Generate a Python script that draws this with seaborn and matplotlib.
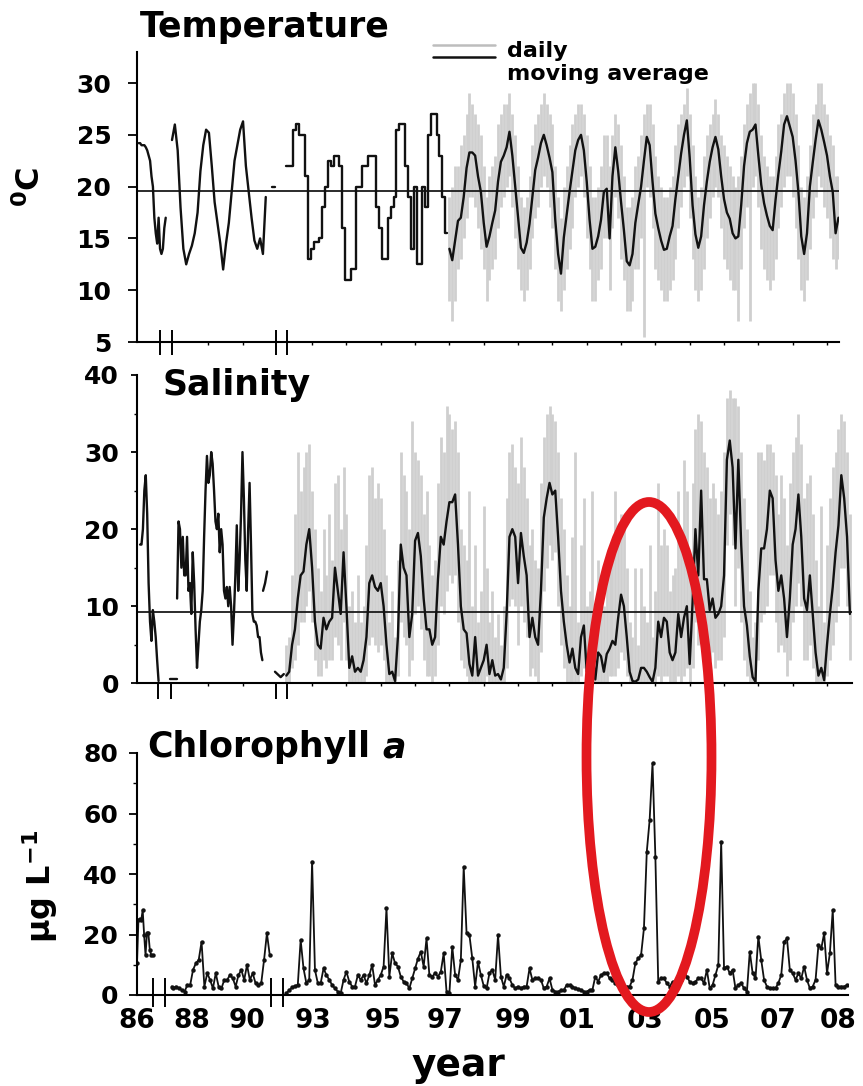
import numpy as np
import matplotlib
matplotlib.use("Agg")
import matplotlib.pyplot as plt
import seaborn as sns
from matplotlib.patches import Ellipse
from matplotlib.lines import Line2D
from matplotlib.ticker import NullLocator

sns.set_theme(style="ticks")
plt.rcParams["font.family"] = ["DejaVu Sans"]
plt.rcParams["font.weight"] = "bold"
plt.rcParams["mathtext.default"] = "bf"
plt.rcParams["axes.linewidth"] = 1.5
for k in ("text.color", "axes.labelcolor", "xtick.color", "ytick.color", "axes.edgecolor"):
    plt.rcParams[k] = "black"

# ---------------- DATA ----------------
# Temperature (deg C)
temp_a_start = 1986.40            # semi-monthly
temp_a = [24.2, 24.2, 24, 24, 24, 23.8, 23.5, 23, 22.5, 21,
          20, 17, 15.5, 14.5, 17, 14, 13.5, 14, 16, 17]
temp_b_start = 1988.55            # monthly
temp_b = [24.5, 26, 23.5, 18, 14, 12.5, 13.5, 14.3, 15.5, 17.5,
          21.5, 24, 25.5, 25.2, 22, 18.5, 16.5, 14.5, 12, 14.5,
          16.5, 19.5, 22.5, 24, 25.5, 26.3, 22, 19.5, 17, 14.8,
          14, 15, 13.5, 19]
temp_stub_years = [1991.48, 1991.58]
temp_stub = [20, 20]
temp_station_start = 1992.25      # monthly station values (step line)
temp_station = [22, 22, 22, 25.5, 26, 25, 25, 21, 13, 14,
                14.7, 14.7, 15, 18, 20, 22.5, 22, 23, 23, 22,
                16, 11, 11, 12, 12, 20, 20, 22, 22, 23,
                23, 23, 18, 16, 13, 13, 17, 18, 19, 25.5,
                26, 26, 22, 19, 14, 20, 12.5, 12.5, 20, 18,
                25, 27, 27, 25, 23, 19, 15.5]
temp_ma_start = 1997.0            # monthly moving average
temp_ma = [14.0, 12.9, 14.8, 16.7, 17.0, 19.0, 21.8, 23.3, 23.3, 23.0,
           21.0, 19.5, 16.5, 14.2, 15.2, 16.5, 17.7, 20.5, 22.4, 23.0,
           23.8, 25.3, 23.0, 20.0, 17.0, 14.1, 13.6, 14.6, 16.4, 19.0,
           21.6, 22.8, 24.2, 25.0, 24.0, 22.8, 21.4, 16.8, 13.5, 11.6,
           15.1, 17.3, 19.5, 21.5, 23.5, 24.5, 25.0, 23.5, 20.5, 16.8,
           14.0, 14.2, 15.2, 16.8, 19.5, 19.8, 15.0, 21.0, 23.8, 21.5,
           18.5, 15.8, 12.8, 12.4, 13.5, 16.5, 18.3, 20.0, 22.5, 24.8,
           24.0, 20.5, 17.4, 16.0, 14.8, 13.9, 14.0, 15.2, 16.2, 18.8,
           21.0, 23.2, 25.0, 26.4, 22.8, 18.2, 15.4, 14.1, 15.2, 18.2,
           20.5, 22.4, 23.8, 24.8, 23.6, 21.0, 18.8, 17.5, 16.9, 15.5,
           15.0, 15.2, 18.2, 22.0, 24.2, 25.3, 25.5, 26.0, 23.0, 20.2,
           18.4, 17.2, 16.2, 15.8, 18.7, 21.2, 23.4, 26.0, 26.8, 25.8,
           24.8, 22.5, 19.5, 15.2, 13.5, 15.5, 20.0, 22.3, 24.5, 26.4,
           25.5, 24.3, 23.0, 21.0, 19.5, 15.5, 17.0]
temp_daily_hi = [19, 20, 22, 22, 24, 25, 27, 29, 28, 27,
                 26, 25, 22, 19, 21, 22, 23, 26, 27, 28,
                 28, 29, 27, 25, 22, 19, 18, 19, 21, 24,
                 26, 27, 28, 29, 28, 27, 26, 22, 19, 17,
                 20, 22, 24, 26, 27, 28, 28, 27, 25, 22,
                 19, 19, 20, 22, 25, 25, 22, 25, 27, 26,
                 24, 21, 18, 18, 19, 22, 23, 25, 27, 28,
                 28, 26, 23, 21, 20, 19, 19, 20, 21, 24,
                 26, 27, 28, 29.5, 27, 24, 21, 19, 20, 23,
                 25, 26, 27, 28.5, 27, 25, 24, 23, 22, 21,
                 20, 21, 23, 26, 28, 29, 30, 30, 28, 25,
                 23, 22, 21, 21, 23, 26, 27, 29, 30, 30,
                 29, 27, 24, 20, 19, 21, 24, 27, 28, 30,
                 30, 28, 27, 25, 24, 21, 21]
temp_daily_lo = [9, 7, 9, 12, 13, 15, 17, 19, 19, 18,
                 16, 14, 12, 9, 11, 12, 13, 16, 18, 19,
                 20, 21, 18, 15, 12, 10, 9, 10, 12, 15,
                 17, 18, 20, 21, 20, 18, 16, 12, 9, 8,
                 10, 12, 14, 16, 19, 20, 21, 19, 15, 12,
                 9, 9, 11, 12, 15, 15, 10, 16, 19, 17,
                 13, 11, 8, 8, 9, 12, 12, 15, 5.5, 20,
                 19, 16, 12, 11, 10, 9, 9, 10, 11, 13,
                 16, 18, 20, 21, 17, 13, 10, 9, 10, 12,
                 15, 17, 19, 20, 19, 16, 13, 12, 11, 10,
                 10, 7, 12, 16, 18, 7, 20, 21, 18, 14,
                 12, 11, 10, 11, 13, 16, 18, 20, 21, 21,
                 19, 16, 13, 10, 9, 11, 14, 17, 19, 21,
                 20, 18, 17, 15, 13, 12, 13]
temp_ref = 19.6

# Salinity
sal_a_start = 1986.44             # semi-monthly
sal_a = [18, 18, 20, 25, 27, 22, 13, 8, 5.5, 9.5, 8, 6, 3, 0.3]
sal_stub1_years = [1988.10, 1988.70]
sal_stub1 = [0.5, 0.5]
sal_b_start = 1988.70             # semi-monthly
sal_b = [11, 21, 20, 15, 19, 14, 14, 19, 12, 13,
         9, 17, 13, 7, 2, 5, 8, 9.5, 12, 19,
         25, 29.5, 26, 27, 30, 28.5, 25, 21, 20, 22,
         17, 20, 18, 12, 11, 12.5, 10, 12.5, 10, 5,
         9, 14, 20.5, 12, 16, 22, 30, 24, 16, 12,
         20, 26, 18, 9, 8, 8, 7.5, 6, 6, 4,
         3]
sal_b2_years = [1991.22, 1991.28, 1991.34]
sal_b2 = [12, 13, 14.5]
sal_stub2_years = [1991.57, 1991.90, 1992.10]
sal_stub2 = [1.5, 0.8, 1.2]
sal_ma_start = 1992.25            # monthly moving average
sal_ma = [1.0, 1.5, 5, 7, 11, 14, 14.5, 18, 20, 15,
          8, 5, 4.5, 8.5, 7, 8, 8.5, 15, 12, 9,
          17, 10, 2, 3.5, 1.5, 2, 1.5, 3, 6, 13,
          14, 12.5, 12, 13, 10, 5, 1.2, 1.5, 0.3, 6,
          18, 15, 14, 6, 9, 18.5, 19.5, 16.5, 11, 7,
          7, 5, 6, 13.5, 19, 18, 21, 23.5, 23.5, 24.5,
          18, 10, 7, 6.5, 2.5, 1, 6, 1, 2, 3,
          5, 1.2, 3, 1, 1.2, 0.5, 2, 9, 19, 20,
          19, 13, 19.5, 16.5, 14, 6, 8.5, 6, 5, 12,
          21.5, 24, 26, 24.5, 25, 19, 12, 8, 5, 2.7,
          4.5, 2, 1.2, 6, 7.5, 1.5, 1.5, 4, 0.5, 4,
          3.5, 1.5, 3.8, 4.5, 5.5, 5, 8.5, 11.5, 10, 6,
          1.5, 0.3, 0.2, 0.5, 2, 2, 1.5, 0.8, 0.2, 2,
          8, 6, 8.5, 8, 4, 3, 4, 9, 6, 8.5,
          10, 2.5, 10.5, 20, 14, 25, 13.5, 13.5, 9.5, 11,
          8.5, 9, 10, 14, 29, 31.5, 28, 17.5, 29, 18,
          10, 7.5, 3.5, 0.8, 0.2, 12, 17.5, 17.5, 20, 25,
          24, 16, 12, 14, 11, 6, 11, 18, 20, 24.5,
          19, 11, 9.5, 14, 9, 4, 1, 2, 0.4, 5,
          9, 12.5, 17, 20.5, 27, 24, 19, 9]
sal_daily_hi = [5, 6, 14, 22, 30, 25, 28, 30, 31, 25,
                20, 15, 12, 20, 14, 22, 16, 26, 27, 20,
                28, 22, 10, 12, 8, 14, 8, 10, 18, 27,
                28, 24, 26, 24, 20, 14, 8, 12, 6, 16,
                30, 27, 25, 20, 34, 30, 29, 27, 22, 25,
                18, 14, 16, 26, 32, 30, 36, 35, 33, 34,
                30, 20, 18, 16, 25, 10, 18, 8, 12, 23,
                15, 8, 12, 6, 9, 5, 10, 24, 30, 31,
                28, 26, 32, 28, 24, 18, 20, 16, 15, 26,
                32, 35, 36, 35, 34, 30, 24, 20, 14, 10,
                19, 30, 8, 18, 24, 10, 12, 25, 8, 16,
                14, 10, 16, 18, 16, 25, 20, 22, 20, 15,
                8, 6, 15, 5, 15, 10, 8, 18, 6, 12,
                26, 18, 20, 18, 12, 14, 15, 25, 18, 29,
                25, 16, 26, 33, 35, 34, 30, 28, 24, 26,
                24, 22, 25, 30, 37, 38, 37, 37, 36, 30,
                24, 20, 12, 6, 8, 30, 30, 29, 31, 31,
                30, 27, 22, 27, 24, 18, 26, 30, 32, 35,
                31, 24, 26, 27, 22, 16, 10, 23, 8, 18,
                24, 28, 30, 33, 35, 34, 30, 22]
sal_daily_lo = [0, 0, 2, 3, 5, 8, 8, 10, 12, 8,
                3, 1, 1, 3, 2, 3, 3, 6, 5, 3,
                8, 3, 0, 0, 0, 0, 0, 0, 1, 5,
                6, 5, 4, 5, 3, 0, 0, 0, 0, 1,
                8, 6, 5, 1, 3, 9, 10, 7, 3, 1,
                1, 0, 1, 5, 10, 9, 12, 14, 13, 14,
                8, 3, 2, 1, 0, 0, 0, 0, 0, 0,
                1, 0, 0, 0, 0, 0, 0, 2, 10, 11,
                10, 5, 10, 8, 6, 1, 2, 1, 0, 4,
                12, 15, 18, 16, 17, 10, 5, 2, 0, 0,
                0, 0, 0, 1, 2, 0, 0, 0, 0, 0,
                0, 0, 0, 1, 1, 1, 2, 4, 3, 1,
                0, 0, 0, 0, 0, 0, 0, 0, 0, 0,
                1, 0, 1, 1, 0, 0, 0, 1, 0, 1,
                2, 0, 2, 8, 5, 10, 5, 5, 3, 4,
                2, 3, 3, 6, 18, 22, 18, 10, 15, 8,
                3, 1, 0, 0, 0, 3, 8, 9, 10, 14,
                14, 8, 4, 5, 4, 1, 3, 8, 10, 13,
                10, 3, 3, 5, 2, 0, 0, 0, 0, 1,
                3, 5, 8, 10, 15, 15, 10, 3]
sal_ref = 9.3

# Chlorophyll a (ug/L)
chl_a_start = 1986.35             # semi-monthly
chl_a = [10.5, 24.8, 25, 24.8, 28.1, 20, 13.2, 20.4, 20.4, 15, 13.2, 13.2]
chl_b_start = 1988.50             # monthly
chl_b = [2.8, 2.2, 2.8, 2.2, 1.7, 1.1, 3.3, 3.3, 8.3, 10.5,
         11.6, 17.6, 2.8, 7.2, 5, 2.2, 7.2, 2.8, 2.2, 5,
         5, 6.6, 5.5, 2.8, 6.6, 8.3, 5, 9.9, 5, 7.2,
         3.9, 3.3, 3.9, 11.6, 20.4, 13.2]
chl_c_start = 1992.25             # monthly
chl_c = [0.6, 1.5, 2.5, 3, 3.3, 18.2, 8.8, 3.9, 5, 44.1,
         8.3, 3.9, 3.9, 8.8, 6.6, 5, 3.3, 2.2, 1.1, 0.6,
         5, 7.7, 4.4, 2.8, 2.8, 6.6, 5, 6.6, 3.9, 6.6,
         9.9, 3.3, 5, 6.6, 9.4, 28.7, 6.1, 13.8, 10.5, 9.4,
         6.1, 4.4, 3.9, 2.2, 5.5, 8.8, 12, 14.3, 9.4, 18.7,
         6.6, 6.1, 7.2, 6.1, 7.7, 13.8, 1.1, 0.6, 16, 6.6,
         5, 11.6, 42.4, 20.4, 19.8, 12.1, 2.8, 11, 6.6, 3,
         2.2, 7.2, 8.3, 5, 19.8, 6.1, 2.8, 6.6, 5.5, 3.3,
         2.2, 2.8, 2.2, 2.8, 2.8, 8.8, 5, 5.5, 5.5, 5,
         2.2, 2.8, 5.5, 1.7, 1.1, 1.1, 1.5, 1.7, 3.3, 3.3,
         2.8, 2.2, 2, 1.7, 1.1, 1.1, 1.7, 1.7, 6.1, 4.4,
         6.6, 7.2, 7.2, 5.5, 5, 3.9, 3.3, 2.8, 2.8, 2.8,
         2.8, 5, 10.5, 12.1, 13.2, 22, 47.4, 57.9, 76.6, 45.7,
         4.4, 5.5, 5.5, 3.9, 2.8, 4.4, 3.3, 5, 5, 7.7,
         6.1, 4.4, 3.9, 4.4, 5.5, 5.5, 3.9, 8.3, 2.2, 3.3,
         6.6, 9.9, 50.7, 8.8, 9.4, 7.2, 8.3, 2.2, 3.3, 3.9,
         2.2, 1.1, 14.3, 7.2, 5.5, 19.3, 11.6, 5, 2.8, 2.2,
         2.2, 2.2, 4, 6.6, 17.6, 18.7, 8.3, 7.2, 5, 7.2,
         5.5, 9.4, 5, 2.2, 2.8, 5, 16.5, 15.4, 20.4, 7.2,
         13.8, 28.1, 3.3, 2.8, 2.8, 2.8, 3.3]

year_labels = ["86", "88", "90", "93", "95", "97", "99", "01", "03", "05", "07", "08"]
year_label_pos = [1986.35, 1989.14, 1990.75, 1993.03, 1995.07, 1996.87,
                  1998.85, 2000.72, 2002.70, 2004.65, 2006.57, 2008.32]

assert len(temp_ma) == len(temp_daily_hi) == len(temp_daily_lo)
assert len(sal_ma) == len(sal_daily_hi) == len(sal_daily_lo)


def series_years(start, values, step):
    return start + np.arange(len(values)) * step


M, H = 1.0 / 12.0, 1.0 / 24.0

# ---------------- broken time axis (compressed gaps) ----------------
KN_Y = np.array([1980.0, 1986.35, 1987.2, 1988.55, 1991.6, 1992.24, 2008.32, 2020.0])
KN_P = np.array([-79.5, 137.0, 166.0, 172.0, 276.0, 286.0, 838.0, 1239.0])


def fwd(x):
    return np.interp(x, KN_Y, KN_P)


def inv(p):
    return np.interp(p, KN_P, KN_Y)


W, Hpx = 863.0, 1086.0
fig = plt.figure(figsize=(8.63, 10.86), dpi=100)


def make_ax(top_px, bottom_px, right_px):
    ax = fig.add_axes([137 / W, 1 - bottom_px / Hpx, (right_px - 137) / W,
                       (bottom_px - top_px) / Hpx])
    ax.set_xscale("function", functions=(fwd, inv))
    ax.set_xlim(1986.35, float(inv(right_px)))
    ax.set_facecolor("white")
    sns.despine(ax=ax)
    for s in ("left", "bottom"):
        ax.spines[s].set_linewidth(1.5)
        ax.spines[s].set_color("black")
    ax.xaxis.set_minor_locator(NullLocator())
    return ax


ax_t = make_ax(52, 342, 839)
ax_s = make_ax(375, 683.3, 852)
ax_c = make_ax(753, 995, 848)

line_kw = dict(color="#111111", estimator=None, sort=False, linewidth=1.7)
daily_color = "#cfcfcf"

# ---- Temperature ----
yrs_tma = series_years(temp_ma_start, temp_ma, M)
ax_t.vlines(yrs_tma, temp_daily_lo, temp_daily_hi, color=daily_color, lw=2.0, zorder=1)
ax_t.axhline(temp_ref, color="#1a1a1a", lw=1.3, zorder=2)
sns.lineplot(x=series_years(temp_a_start, temp_a, H), y=temp_a, ax=ax_t, zorder=3, **line_kw)
sns.lineplot(x=series_years(temp_b_start, temp_b, M), y=temp_b, ax=ax_t, zorder=3, **line_kw)
sns.lineplot(x=temp_stub_years, y=temp_stub, ax=ax_t, zorder=3, **line_kw)
sns.lineplot(x=series_years(temp_station_start, temp_station, M), y=temp_station,
             ax=ax_t, zorder=3, drawstyle="steps-mid", **line_kw)
sns.lineplot(x=yrs_tma, y=temp_ma, ax=ax_t, zorder=3, **line_kw)
ax_t.set_ylim(5, 33)
ax_t.set_yticks([5, 10, 15, 20, 25, 30])
ax_t.tick_params(axis="y", length=6.5, width=1.3, pad=12, labelsize=18, colors="black")

# ---- Salinity ----
yrs_sma = series_years(sal_ma_start, sal_ma, M)
ax_s.vlines(yrs_sma, sal_daily_lo, sal_daily_hi, color=daily_color, lw=2.0, zorder=1)
ax_s.axhline(sal_ref, color="#1a1a1a", lw=1.3, zorder=2)
sns.lineplot(x=series_years(sal_a_start, sal_a, H), y=sal_a, ax=ax_s, zorder=3, **line_kw)
sns.lineplot(x=sal_stub1_years, y=sal_stub1, ax=ax_s, zorder=3, **line_kw)
sns.lineplot(x=series_years(sal_b_start, sal_b, H), y=sal_b, ax=ax_s, zorder=3, **line_kw)
sns.lineplot(x=sal_b2_years, y=sal_b2, ax=ax_s, zorder=3, **line_kw)
sns.lineplot(x=sal_stub2_years, y=sal_stub2, ax=ax_s, zorder=3, **line_kw)
sns.lineplot(x=yrs_sma, y=sal_ma, ax=ax_s, zorder=3, **line_kw)
ax_s.set_ylim(0, 40)
ax_s.set_yticks([0, 10, 20, 30, 40])
ax_s.set_yticks([5, 15, 25, 35], minor=True)
ax_s.tick_params(axis="y", which="major", length=4, width=1.3, pad=9, labelsize=18, colors="black")
ax_s.tick_params(axis="y", which="minor", length=2.5, width=1.0)

# ---- Chlorophyll ----
chl_kw = dict(line_kw, linewidth=1.3, marker="o", markersize=3.2,
              markeredgewidth=0, markerfacecolor="#111111")
sns.lineplot(x=series_years(chl_a_start, chl_a, H), y=chl_a, ax=ax_c, **chl_kw)
sns.lineplot(x=series_years(chl_b_start, chl_b, M), y=chl_b, ax=ax_c, **chl_kw)
sns.lineplot(x=series_years(chl_c_start, chl_c, M), y=chl_c, ax=ax_c, **chl_kw)
ax_c.set_ylim(0, 80)
ax_c.set_yticks([0, 20, 40, 60, 80])
ax_c.set_yticks([10, 30, 50, 70], minor=True)
ax_c.tick_params(axis="y", which="major", length=5.5, width=1.3, pad=8, labelsize=18, colors="black")
ax_c.tick_params(axis="y", which="minor", length=3, width=1.0)
ax_c.set_xticks(year_label_pos)
ax_c.set_xticklabels(year_labels)
ax_c.tick_params(axis="x", length=0, pad=9, labelsize=19, colors="black")

# minor year ticks on upper panels
year_ticks = [1989.61, 1990.63] + list(range(1993, 2009))
for ax in (ax_t, ax_s):
    ax.set_xticks(year_ticks)
    ax.set_xticklabels([])
    ax.tick_params(axis="x", length=2.5, width=1.0, direction="out")

for ax in (ax_t, ax_s, ax_c):
    ax.set_xlabel("")
    ax.set_ylabel("")

# axis-break marks
breaks = [(ax_t, [1987.02, 1988.55, 1991.6, 1992.27], (-0.045, 0.041)),
          (ax_s, [1986.97, 1988.33, 1991.6, 1992.27], (-0.05, 0.0)),
          (ax_c, [1986.82, 1987.18, 1991.45, 1992.05], (-0.05, 0.07))]
for ax, xs, (y0, y1) in breaks:
    ax.vlines(xs, y0, y1, transform=ax.get_xaxis_transform(), colors="black",
              lw=1.4, clip_on=False, zorder=5)


# ---------------- text ----------------
def ftext(xpx, ypx, s, **kw):
    return fig.text(xpx / W, 1 - ypx / Hpx, s, **kw)


ftext(140, 37, "Temperature", fontsize=25, fontweight="bold", va="baseline", ha="left")
ftext(162, 395, "Salinity", fontsize=25, fontweight="bold", va="baseline", ha="left")
t_chl = ftext(147, 757, "Chlorophyll", fontsize=25, fontweight="bold", va="baseline", ha="left")
ax_c.annotate("a", xy=(1, 0), xycoords=t_chl, xytext=(9, 0), textcoords="offset points",
              fontsize=25, fontweight="bold", style="italic", va="bottom", ha="left",
              annotation_clip=False)

ftext(31, 187, r"$^{0}$C", fontsize=23, fontweight="bold", rotation=90, ha="center", va="center")
ftext(40, 886, r"μg L$^{-1}$", fontsize=23, fontweight="bold", rotation=90, ha="center", va="center")
ftext(458, 1076, "year", fontsize=27, fontweight="bold", ha="center", va="baseline")

# legend (drawn by hand, matches original layout)
fig.add_artist(Line2D([433 / W, 495 / W], [1 - 45 / Hpx] * 2, transform=fig.transFigure,
                      color="#bdbdbd", lw=1.8))
fig.add_artist(Line2D([433 / W, 495 / W], [1 - 57 / Hpx] * 2, transform=fig.transFigure,
                      color="#111111", lw=1.8))
ftext(507, 57, "daily", fontsize=16, fontweight="bold", va="baseline", ha="left")
ftext(507, 80, "moving average", fontsize=16, fontweight="bold", va="baseline", ha="left")

# red highlight ellipse around the 2003 bloom
fig.add_artist(Ellipse((649 / W, 1 - 757 / Hpx), 125 / W, 510 / Hpx,
                       transform=fig.transFigure, fill=False, edgecolor="#e3191f",
                       linewidth=7, zorder=20))

fig.savefig("out.png", dpi=100, facecolor="white")
